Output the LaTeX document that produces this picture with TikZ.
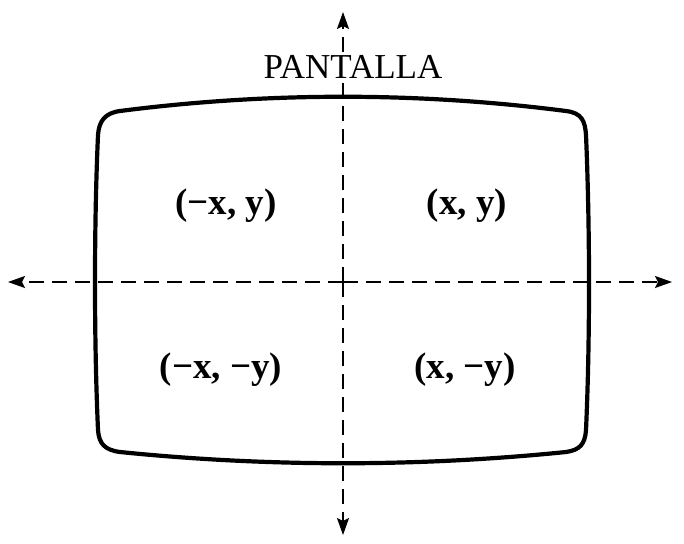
\documentclass[tikz,border=0pt]{standalone}
\usepackage{fontspec}
\setmainfont{Liberation Serif}
\usetikzlibrary{arrows.meta}
\tikzset{
  axis/.style={line width=1.9pt, dash pattern=on 15pt off 8pt, -{Stealth[length=17pt,width=12pt,inset=3pt]}},
  screen/.style={line width=4.2pt, line join=round},
  quad/.style={font=\fontsize{37}{40}\selectfont\bfseries, inner sep=0pt},
  title/.style={font=\fontsize{35}{38}\selectfont, fill=white, inner xsep=1pt, inner ysep=3pt}
}
\begin{document}
\begin{tikzpicture}[x=1pt,y=-1pt]
\useasboundingbox (0,0) rectangle (684,543);
\fill[white] (0,0) rectangle (684,543);
% axes
\coordinate (c) at (343,282);
\coordinate (top) at (343,12);
\coordinate (bot) at (343,535);
\coordinate (lft) at (8,282);
\coordinate (rgt) at (672,282);
\draw[axis] (c) -- (top);
\draw[axis] (c) -- (bot);
\draw[axis] (c) -- (lft);
\draw[axis] (c) -- (rgt);
% screen outline
\draw[screen] (120,111) .. controls (268,92) and (418,92) .. (566,111)
  .. controls (582,113) and (585,121) .. (586,135)
  .. controls (590,230) and (590,340) .. (586,430)
  .. controls (585,444) and (580,450) .. (566,452)
  .. controls (418,467) and (268,467) .. (120,452)
  .. controls (105,450) and (99,444) .. (98,430)
  .. controls (94,340) and (94,225) .. (98,135)
  .. controls (99,121) and (105,113) .. (120,111) -- cycle;
% title
\node[title] (pantalla) at (353,67) {PANTALLA};
% quadrant labels
\node[quad] (q2) at (226,206) {(−x, y)};
\node[quad] (q1) at (467,206) {(x, y)};
\node[quad] (q3) at (221,370) {(−x, −y)};
\node[quad] (q4) at (465,370) {(x, −y)};
\end{tikzpicture}
\end{document}
